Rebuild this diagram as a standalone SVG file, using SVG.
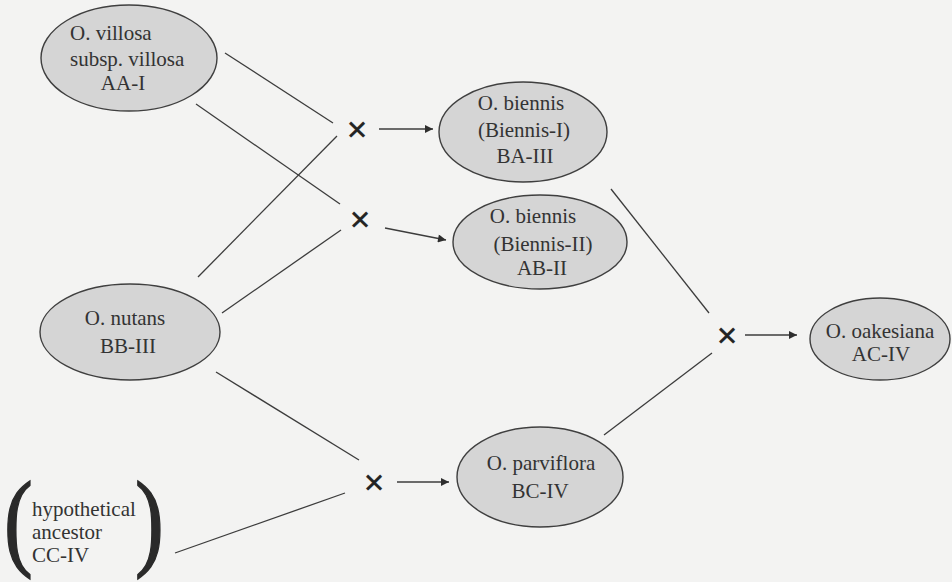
<svg xmlns="http://www.w3.org/2000/svg" width="952" height="582" viewBox="0 0 952 582">
<style>
.bg{fill:#f3f3f2}
.node ellipse{fill:#d5d5d5;stroke:#3f3f3f;stroke-width:1.4}
text{font-family:"Liberation Serif","Times New Roman",serif;font-size:21px;fill:#333}
.c{text-anchor:middle}
.x{font-family:"DejaVu Sans","Liberation Sans",sans-serif;font-size:27px;text-anchor:middle;fill:#222;stroke:#222;stroke-width:0.6}
.ln{stroke:#3c3c3c;stroke-width:1.3;fill:none}
.ar{stroke:#3c3c3c;stroke-width:1.3;fill:none;marker-end:url(#ah)}
.par{font-size:108px;fill:#2a2a2a;stroke:#2a2a2a;stroke-width:1.5}
</style>
<defs>
<marker id="ah" viewBox="0 0 10 10" refX="10" refY="5" markerWidth="9" markerHeight="8" markerUnits="userSpaceOnUse" orient="auto">
<path d="M0,0 L10,5 L0,10 z" fill="#2e2e2e"/>
</marker>
</defs>
<rect class="bg" x="0" y="0" width="952" height="582"/>
<g id="connectors">
<line class="ln" x1="225" y1="53" x2="333" y2="123"/>
<line class="ln" x1="196" y1="104" x2="340" y2="204"/>
<line class="ln" x1="198" y1="277" x2="337" y2="136"/>
<line class="ln" x1="222" y1="313" x2="341" y2="230"/>
<line class="ln" x1="216" y1="372" x2="359" y2="460"/>
<line class="ln" x1="175" y1="553" x2="345" y2="493"/>
<line class="ln" x1="611" y1="189" x2="709" y2="313"/>
<line class="ln" x1="604" y1="435" x2="712" y2="353"/>
<line class="ar" x1="379" y1="129" x2="433" y2="129"/>
<line class="ar" x1="385" y1="228" x2="446" y2="240"/>
<line class="ar" x1="397" y1="482" x2="449" y2="482"/>
<line class="ar" x1="745" y1="335" x2="797" y2="335"/>
<text class="x" x="357" y="138">×</text>
<text class="x" x="360" y="228">×</text>
<text class="x" x="374" y="491">×</text>
<text class="x" x="727" y="344">×</text>
</g>
<g id="villosa" class="node">
<ellipse cx="129" cy="58" rx="88" ry="53"/>
<text x="70" y="40">O. villosa</text>
<text x="70" y="66">subsp. villosa</text>
<text class="c" x="123" y="90">AA-I</text>
</g>
<g id="nutans" class="node">
<ellipse cx="130" cy="332" rx="90" ry="48"/>
<text class="c" x="125" y="325">O. nutans</text>
<text class="c" x="128" y="353">BB-III</text>
</g>
<g id="biennis1" class="node">
<ellipse cx="523" cy="132" rx="84" ry="50"/>
<text class="c" x="521" y="110">O. biennis</text>
<text class="c" x="524" y="137">(Biennis-I)</text>
<text class="c" x="525" y="163">BA-III</text>
</g>
<g id="biennis2" class="node">
<ellipse cx="540" cy="242" rx="87" ry="47"/>
<text class="c" x="533" y="223">O. biennis</text>
<text class="c" x="543" y="251">(Biennis-II)</text>
<text class="c" x="542" y="275">AB-II</text>
</g>
<g id="parviflora" class="node">
<ellipse cx="540" cy="477" rx="83" ry="50"/>
<text class="c" x="541" y="470">O. parviflora</text>
<text class="c" x="540" y="498">BC-IV</text>
</g>
<g id="oakesiana" class="node">
<ellipse cx="880" cy="339" rx="70" ry="41"/>
<text class="c" x="880" y="338">O. oakesiana</text>
<text class="c" x="881" y="361">AC-IV</text>
</g>
<g id="ancestor">
<text class="par" transform="translate(4,556) scale(0.8,1)">(</text>
<text class="par" transform="translate(135,556) scale(0.8,1)">)</text>
<text x="32" y="516">hypothetical</text>
<text x="32" y="539">ancestor</text>
<text x="32" y="562">CC-IV</text>
</g>
</svg>
